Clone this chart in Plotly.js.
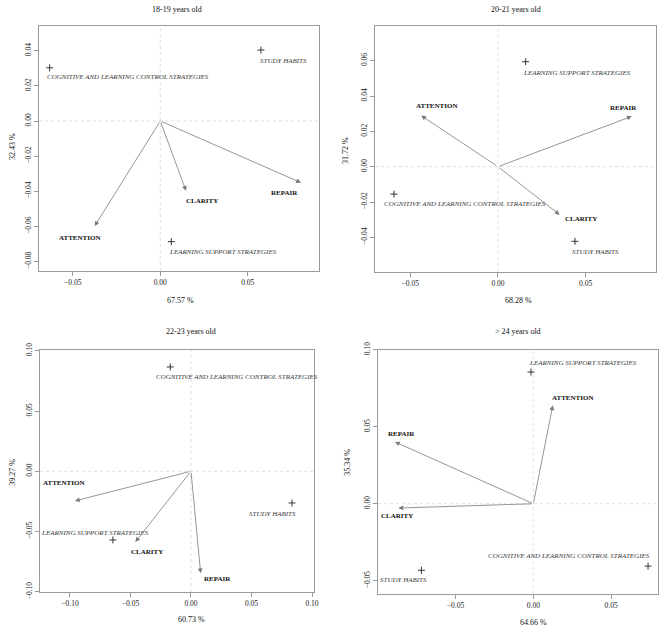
<!DOCTYPE html>
<html><head><meta charset="utf-8">
<script src="https://cdn.plot.ly/plotly-3.0.1.min.js"></script>
<style>body{margin:0;background:#fff}#chart{width:666px;height:632px}</style>
</head><body><div id="chart"></div>
<script>
// ---------- data ----------
const panelTitles = ['18-19 years old', '20-21 years old', '22-23 years old', '> 24 years old'];
const xAxisTitles = ['67.57 %', '68.28 %', '60.73 %', '64.66 %'];
const yAxisTitles = ['32.43 %', '31.72 %', '39.27 %', '35.34 %'];
const variables = ['ATTENTION', 'CLARITY', 'REPAIR'];
const categories = ['COGNITIVE AND LEARNING CONTROL STRATEGIES', 'LEARNING SUPPORT STRATEGIES', 'STUDY HABITS'];

const varX_18_19 = [-0.0375, 0.0147, 0.0804];
const varY_18_19 = [-0.0598, -0.0397, -0.0351];
const catX_18_19 = [-0.0632, 0.0063, 0.0575];
const catY_18_19 = [0.0303, -0.0687, 0.0404];

const varX_20_21 = [-0.0438, 0.0352, 0.0763];
const varY_20_21 = [0.0289, -0.0272, 0.0285];
const catX_20_21 = [-0.0593, 0.0158, 0.0439];
const catY_20_21 = [-0.0155, 0.0594, -0.0422];

const varX_22_23 = [-0.0959, -0.0460, 0.0080];
const varY_22_23 = [-0.0246, -0.0587, -0.0846];
const catX_22_23 = [-0.0171, -0.0645, 0.0835];
const catY_22_23 = [0.0866, -0.0570, -0.0263];

const varX_24 = [0.0125, -0.0867, -0.0889];
const varY_24 = [0.0639, -0.0028, 0.0401];
const catX_24 = [0.0737, -0.0015, -0.0719];
const catY_24 = [-0.0405, 0.0855, -0.0432];

const panelData = [
  [varX_18_19, varY_18_19, catX_18_19, catY_18_19],
  [varX_20_21, varY_20_21, catX_20_21, catY_20_21],
  [varX_22_23, varY_22_23, catX_22_23, catY_22_23],
  [varX_24, varY_24, catX_24, catY_24]
];

// ---------- layout / style (pixels) ----------
const W = 666, H = 632;
const panelStyle = [
  {bx: [39, 319], by: [26, 271], xr: [-0.0693, 0.0907], yr: [-0.0854, 0.0541], xd: 0.05, yd: 0.02,
   title: [177, 10], xt: [180, 300], yt: [12, 147],
   varOff: [[-15, -12], [16, -10], [-16, -10]],
   catOff: [[-5, -9, 'left'], [-4, -10, 'left'], [-3, -11, 'left']]},
  {bx: [374.7, 656.3], by: [26, 271.7], xr: [-0.0703, 0.0903], yr: [-0.0594, 0.0796], xd: 0.05, yd: 0.02,
   title: [515.5, 10], xt: [518, 300], yt: [346, 150],
   varOff: [[16, 10], [21, -4], [-8, 8]],
   catOff: [[-12, -10, 'left'], [-5, -11, 'left'], [-5, -11, 'left']]},
  {bx: [40.3, 313.7], by: [350.3, 592], xr: [-0.1245, 0.1014], yr: [-0.1002, 0.1004], xd: 0.05, yd: 0.05,
   title: [191, 331.7], xt: [191.7, 619.7], yt: [13, 472.7],
   varOff: [[-11, 18], [12, -10], [17, -6]],
   catOff: [[-16, -10, 'left'], [38, 7, 'right'], [6, -11, 'right']]},
  {bx: [378, 658], by: [349.7, 593.7], xr: [-0.0998, 0.0801], yr: [-0.0584, 0.1], xd: 0.05, yd: 0.05,
   title: [518.3, 331.7], xt: [533, 622], yt: [348, 462.7],
   varOff: [[20, 7], [-1, -8], [7, 8]],
   catOff: [[4, 10, 'right'], [-4, 9, 'left'], [8, -10, 'right']]}
];

const FONT = 'Liberation Serif, Times New Roman, serif';
const traces = [];
const annotations = [];
const shapes = [];
const layout = {
  width: W, height: H, margin: {l: 0, r: 0, t: 0, b: 0},
  paper_bgcolor: '#fff', plot_bgcolor: '#fff', showlegend: false,
  font: {family: FONT, color: '#222'}
};

panelData.forEach((d, i) => {
  const s = panelStyle[i];
  const n = i === 0 ? '' : String(i + 1);
  const xa = 'x' + n, ya = 'y' + n;
  const [vx, vy, cx, cy] = d;
  const axisCommon = {
    showgrid: false, zeroline: false, showline: true, mirror: true,
    linecolor: '#9a9a9a', linewidth: 1, ticks: 'outside', ticklen: 4, tickcolor: '#9a9a9a',
    tickfont: {family: FONT, size: 7.5, color: '#222'}, tickformat: '.2f', fixedrange: true
  };
  layout['xaxis' + n] = Object.assign({}, axisCommon, {
    domain: [s.bx[0] / W, s.bx[1] / W], range: s.xr, dtick: s.xd, tick0: 0, anchor: ya
  });
  layout['yaxis' + n] = Object.assign({}, axisCommon, {
    domain: [1 - s.by[1] / H, 1 - s.by[0] / H], range: s.yr, dtick: s.yd, tick0: 0, anchor: xa,
    tickangle: -90
  });
  // reference lines at zero
  shapes.push({type: 'line', xref: xa, yref: ya + ' domain', x0: 0, x1: 0, y0: 0, y1: 1,
    line: {color: '#d6d6d6', width: 0.8, dash: 'dot'}, layer: 'below'});
  shapes.push({type: 'line', xref: xa + ' domain', yref: ya, x0: 0, x1: 1, y0: 0, y1: 0,
    line: {color: '#d6d6d6', width: 0.8, dash: 'dot'}, layer: 'below'});

  // category points
  traces.push({
    type: 'scatter', mode: 'markers', x: cx, y: cy, xaxis: xa, yaxis: ya,
    marker: {symbol: 'cross-thin', size: 5, line: {width: 1, color: '#333'}, color: '#333'},
    hoverinfo: 'skip'
  });
  // category labels
  categories.forEach((c, k) => {
    annotations.push({
      xref: xa, yref: ya, x: cx[k], y: cy[k], text: c, showarrow: false,
      xanchor: s.catOff[k][2], yanchor: 'middle', xshift: s.catOff[k][0], yshift: s.catOff[k][1],
      font: {family: FONT, size: 7, color: '#3a3a3a', style: 'italic'}
    });
  });
  // variable arrows
  variables.forEach((v, k) => {
    annotations.push({
      xref: xa, yref: ya, axref: xa, ayref: ya, x: vx[k], y: vy[k], ax: 0, ay: 0,
      text: '', showarrow: true, arrowhead: 2, arrowsize: 1.2, arrowwidth: 0.8, arrowcolor: '#7a7a7a'
    });
    annotations.push({
      xref: xa, yref: ya, x: vx[k], y: vy[k], text: '<b>' + v + '</b>', showarrow: false,
      xanchor: 'center', yanchor: 'middle', xshift: s.varOff[k][0], yshift: s.varOff[k][1],
      font: {family: FONT, size: 7, color: '#111'}
    });
  });
  // panel title & axis titles
  annotations.push({xref: 'paper', yref: 'paper', x: s.title[0] / W, y: 1 - s.title[1] / H,
    text: panelTitles[i], showarrow: false, xanchor: 'center', yanchor: 'middle',
    font: {family: FONT, size: 8, color: '#111'}});
  annotations.push({xref: 'paper', yref: 'paper', x: s.xt[0] / W, y: 1 - s.xt[1] / H,
    text: xAxisTitles[i], showarrow: false, xanchor: 'center', yanchor: 'middle',
    font: {family: FONT, size: 8, color: '#111'}});
  annotations.push({xref: 'paper', yref: 'paper', x: s.yt[0] / W, y: 1 - s.yt[1] / H,
    text: yAxisTitles[i], showarrow: false, xanchor: 'center', yanchor: 'middle', textangle: -90,
    font: {family: FONT, size: 8, color: '#111'}});
});

layout.annotations = annotations;
layout.shapes = shapes;
Plotly.newPlot('chart', traces, layout, {staticPlot: true, displayModeBar: false});
</script>
</body></html>
